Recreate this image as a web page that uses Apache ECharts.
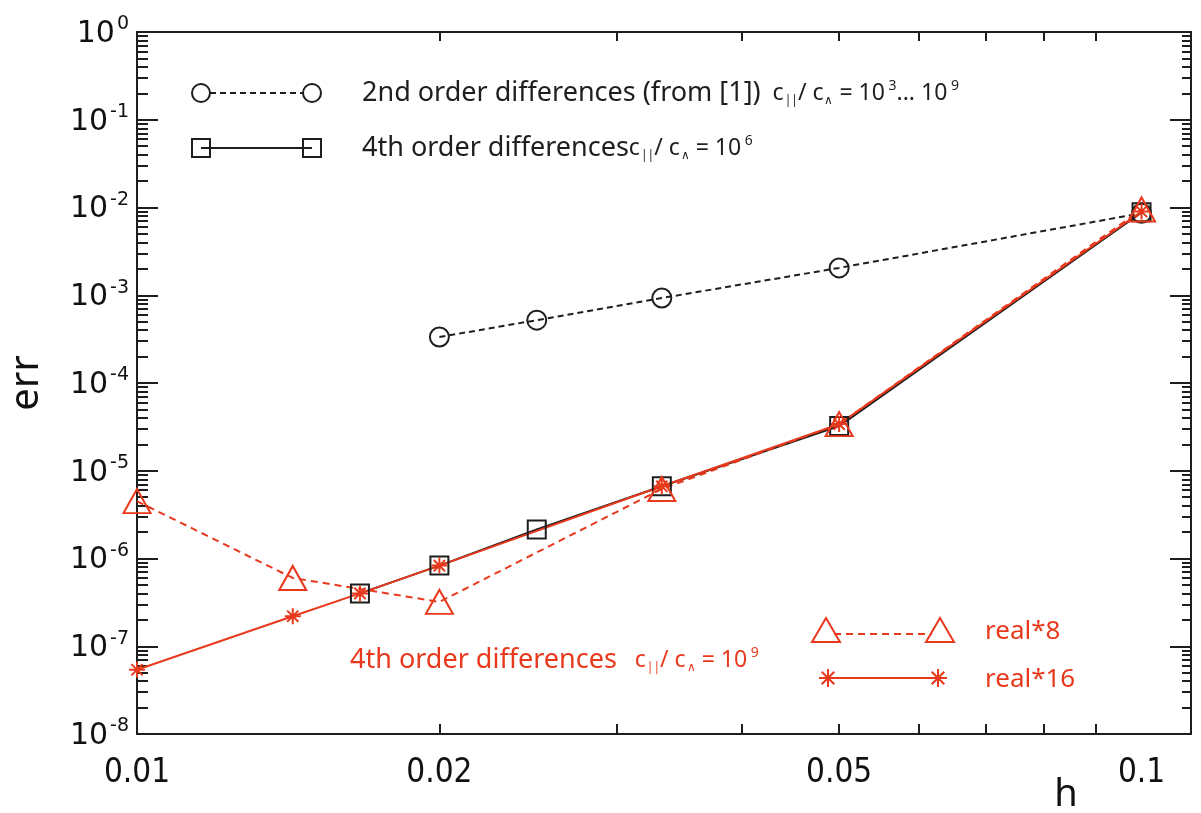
<!DOCTYPE html>
<html>
<head>
<meta charset="utf-8">
<script src="https://cdn.jsdelivr.net/npm/echarts@6/dist/echarts.min.js"></script>
<style>
  html, body { margin: 0; padding: 0; background: #fff; }
  #chart { width: 1201px; height: 813px; }
</style>
</head>
<body>
<div id="chart"></div>
<script>
// values (h, err)
const h2nd = [0.02, 0.025, 0.0333, 0.05, 0.1];
const err2nd = [3.34e-4, 5.2e-4, 9.3e-4, 2.05e-3, 8.6e-3];

const h4th = [0.01667, 0.02, 0.025, 0.0333, 0.05, 0.1];
const err4th = [4.0e-7, 8.3e-7, 2.14e-6, 6.65e-6, 3.23e-5, 8.8e-3];

const hReal8 = [0.01, 0.01429, 0.02, 0.0333, 0.05, 0.1];
const errReal8 = [4.5e-6, 6.0e-7, 3.2e-7, 6.2e-6, 3.4e-5, 9.5e-3];

const hReal16 = [0.01, 0.01429, 0.01667, 0.02, 0.0333, 0.05, 0.1];
const errReal16 = [5.4e-8, 2.2e-7, 4.0e-7, 8.3e-7, 6.65e-6, 3.4e-5, 9.0e-3];

// tick labels / tick positions
const xLabels = [0.01, 0.02, 0.05, 0.1];
const xMinorTicks = [0.02, 0.03, 0.04, 0.05, 0.06, 0.07, 0.08, 0.09];
const yMajorTicks = [1e-8, 1e-7, 1e-6, 1e-5, 1e-4, 1e-3, 1e-2, 1e-1, 1];

const yMinorTicks = [];
yMajorTicks.slice(0, -1).forEach(function (d) {
  for (let k = 2; k <= 9; k++) yMinorTicks.push(Number((k * d).toPrecision(3)));
});

const black = '#1e1e1e';
const red = '#e8391d';
const txtFont = '"Noto Sans", "Open Sans", sans-serif';
const narrowFont = '"DejaVu Sans Condensed", "Liberation Sans Narrow", "Noto Sans", sans-serif';

const pairs = (xs, ys) => xs.map((x, i) => [x, ys[i]]);

function frameX(pos, tickLen, showLabel) {
  return {
    type: 'log', logBase: 10, min: 0.01, max: 0.112, position: pos,
    axisLine: { show: true, onZero: false, lineStyle: { color: black, width: 2 } },
    axisTick: { show: true, inside: true, length: tickLen, customValues: xMinorTicks,
      lineStyle: { color: black, width: 2 } },
    axisLabel: showLabel ? {
      show: true, customValues: xLabels, margin: 23,
      formatter: v => String(Number(v.toPrecision(2))),
      fontSize: 33, fontFamily: narrowFont, color: '#111'
    } : { show: false },
    splitLine: { show: false }, minorTick: { show: false }
  };
}

function frameY(pos, ticks, tickLen, showLine, showLabel) {
  const ax = {
    type: 'log', logBase: 10, min: 1e-8, max: 1, position: pos,
    axisLine: { show: showLine, onZero: false, lineStyle: { color: black, width: 2 } },
    axisTick: { show: true, inside: true, length: tickLen, customValues: ticks,
      lineStyle: { color: black, width: 2 } },
    axisLabel: { show: false },
    splitLine: { show: false }, minorTick: { show: false }
  };
  if (showLabel) {
    ax.axisLabel = {
      show: true, customValues: yMajorTicks, margin: 8,
      formatter: v => '{b|10}{e|' + Math.round(Math.log10(v)) + '}',
      rich: {
        b: { fontSize: 30, fontFamily: '"DejaVu Sans", sans-serif', color: '#111', lineHeight: 34, verticalAlign: 'bottom' },
        e: { fontSize: 19, fontFamily: '"DejaVu Sans", sans-serif', color: '#111', verticalAlign: 'top', padding: [0, 0, 0, 2] }
      }
    };
    ax.name = 'err';
    ax.nameLocation = 'middle';
    ax.nameGap = 90;
    ax.nameRotate = 90;
    ax.nameTextStyle = { fontSize: 40, fontFamily: txtFont, color: '#111' };
  }
  return ax;
}

const starPath = 'path://M0,-10L0,10M-10,0L10,0M-7,-7L7,7M-7,7L7,-7';

// formula "c|| / c∧ = ..." as rich text pieces
const formulaRich = function (col) {
  return {
    m: { fontSize: 27, fontFamily: txtFont, fill: col },
    f: { fontSize: 23, fontFamily: txtFont, fill: col },
    sb: { fontSize: 12, fontFamily: txtFont, fill: col, verticalAlign: 'bottom', padding: [16, 0, 0, 1] },
    sp: { fontSize: 14, fontFamily: txtFont, fill: col, verticalAlign: 'top' }
  };
};

function starGroup(cx, cy, r, col) {
  const d = r * 0.7;
  const seg = (x1, y1, x2, y2) => ({ type: 'line', shape: { x1, y1, x2, y2 }, style: { stroke: col, lineWidth: 2 } });
  return { type: 'group', children: [
    seg(cx, cy - r, cx, cy + r), seg(cx - r, cy, cx + r, cy),
    seg(cx - d, cy - d, cx + d, cy + d), seg(cx - d, cy + d, cx + d, cy - d)
  ] };
}

const chart = echarts.init(document.getElementById('chart'), null, { renderer: 'canvas' });

const option = {
  animation: false,
  backgroundColor: '#fff',
  grid: { left: 137, right: 10, top: 32, bottom: 79, outerBoundsMode: 'none' },
  xAxis: [frameX('bottom', 10, true), frameX('top', 9, false)],
  yAxis: [
    frameY('left', yMajorTicks, 21, true, true),
    frameY('left', yMinorTicks, 11, false, false),
    frameY('right', yMajorTicks, 21, true, false),
    frameY('right', yMinorTicks, 9, false, false)
  ],
  series: [
    {
      name: '2nd order', type: 'line', data: pairs(h2nd, err2nd),
      symbol: 'circle', symbolSize: 19,
      itemStyle: { color: 'transparent', borderColor: black, borderWidth: 2 },
      lineStyle: { color: black, width: 2, type: [6, 4] }
    },
    {
      name: '4th order', type: 'line', data: pairs(h4th, err4th),
      symbol: 'rect', symbolSize: 18,
      itemStyle: { color: 'transparent', borderColor: black, borderWidth: 2 },
      lineStyle: { color: black, width: 2 }
    },
    {
      name: 'real*8', type: 'line', data: pairs(hReal8, errReal8),
      symbol: 'triangle', symbolSize: [27, 24],
      itemStyle: { color: 'transparent', borderColor: red, borderWidth: 2 },
      lineStyle: { color: red, width: 2, type: [7, 5] }
    },
    {
      name: 'real*16', type: 'line', data: pairs(hReal16, errReal16),
      symbol: starPath, symbolSize: 16,
      itemStyle: { color: red, borderColor: red, borderWidth: 2 },
      lineStyle: { color: red, width: 2 }
    }
  ],
  graphic: [
    // black legend, row 1
    { type: 'line', shape: { x1: 210, y1: 93, x2: 303, y2: 93 }, style: { stroke: black, lineWidth: 2, lineDash: [6, 4] } },
    { type: 'circle', shape: { cx: 201, cy: 93, r: 9 }, style: { fill: 'none', stroke: black, lineWidth: 2 } },
    { type: 'circle', shape: { cx: 312, cy: 93, r: 9 }, style: { fill: 'none', stroke: black, lineWidth: 2 } },
    { type: 'text', x: 362, y: 93, style: {
      text: '{m|2nd order differences (from [1])}{f|  c}{sb|||}{f|/ c}{sb|∧}{f| = 10}{sp| 3}{f|... 10}{sp| 9}',
      rich: formulaRich(black), verticalAlign: 'middle', fill: black } },
    // black legend, row 2
    { type: 'line', shape: { x1: 201, y1: 148, x2: 312, y2: 148 }, style: { stroke: black, lineWidth: 2 } },
    { type: 'rect', shape: { x: 192, y: 139, width: 18, height: 18 }, style: { fill: 'none', stroke: black, lineWidth: 2 } },
    { type: 'rect', shape: { x: 303, y: 139, width: 18, height: 18 }, style: { fill: 'none', stroke: black, lineWidth: 2 } },
    { type: 'text', x: 362, y: 148, style: {
      text: '{m|4th order differences}{f|c}{sb|||}{f|/ c}{sb|∧}{f| = 10}{sp| 6}',
      rich: formulaRich(black), verticalAlign: 'middle', fill: black } },
    // red annotation
    { type: 'text', x: 350, y: 660, style: {
      text: '{m|4th order differences}{f|   c}{sb|||}{f|/ c}{sb|∧}{f| = 10}{sp| 9}',
      rich: formulaRich(red), verticalAlign: 'middle', fill: red } },
    // red legend
    { type: 'line', shape: { x1: 834, y1: 634, x2: 932, y2: 634 }, style: { stroke: red, lineWidth: 2, lineDash: [7, 5] } },
    { type: 'polygon', shape: { points: [[826, 618], [840, 642], [812, 642]] }, style: { fill: 'none', stroke: red, lineWidth: 2 } },
    { type: 'polygon', shape: { points: [[940, 618], [954, 642], [926, 642]] }, style: { fill: 'none', stroke: red, lineWidth: 2 } },
    { type: 'text', x: 985, y: 632, style: { text: 'real*8', font: '26px ' + txtFont, fill: red, verticalAlign: 'middle' } },
    { type: 'line', shape: { x1: 828, y1: 678, x2: 938, y2: 678 }, style: { stroke: red, lineWidth: 2 } },
    starGroup(828, 678, 9, red),
    starGroup(938, 678, 9, red),
    { type: 'text', x: 985, y: 680, style: { text: 'real*16', font: '26px ' + txtFont, fill: red, verticalAlign: 'middle' } },
    // x axis title
    { type: 'text', x: 1066, y: 795, style: { text: 'h', font: '38px ' + txtFont, fill: '#111', align: 'center', verticalAlign: 'middle' } }
  ]
};

chart.setOption(option);
</script>
</body>
</html>
